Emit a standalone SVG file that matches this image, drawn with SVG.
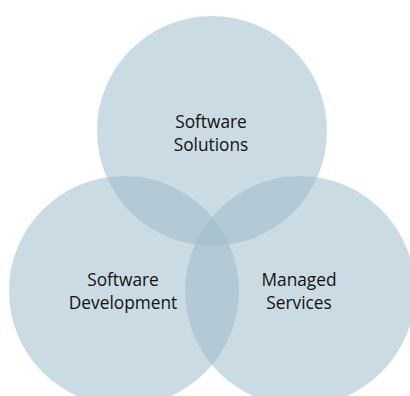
<svg xmlns="http://www.w3.org/2000/svg" width="410" height="396" viewBox="0 0 410 396">
<style>
.c{fill:#9fbccb;fill-opacity:0.54}
.t{font-family:"Open Sans","Liberation Sans",sans-serif;font-size:17.3px;fill:#111111;text-anchor:middle}
</style>
<rect width="410" height="396" fill="#ffffff"/>
<g id="solutions"><circle class="c" cx="212" cy="131" r="115"/><text class="t" x="211" y="128">Software</text><text class="t" x="211" y="150.5">Solutions</text></g>
<g id="development"><circle class="c" cx="124" cy="291" r="115"/><text class="t" x="123" y="286">Software</text><text class="t" x="123" y="309">Development</text></g>
<g id="managed"><circle class="c" cx="300" cy="291" r="115"/><text class="t" x="299" y="286">Managed</text><text class="t" x="299" y="309">Services</text></g>
<g id="connectors"></g>
</svg>
